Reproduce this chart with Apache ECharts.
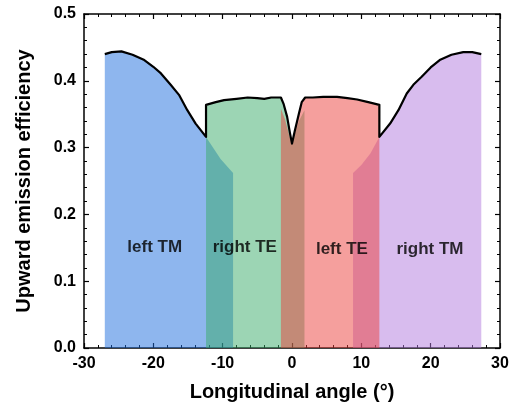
<!DOCTYPE html>
<html>
<head>
<meta charset="utf-8">
<script src="https://cdn.jsdelivr.net/npm/echarts@6/dist/echarts.min.js"></script>
<style>
  html, body { margin: 0; padding: 0; background: #fff; }
  #chart { width: 523px; height: 411px; }
</style>
</head>
<body>
<div id="chart"></div>
<script>
// [angle, efficiency] pairs
var leftTM = [[-27.0, 0], [-27.0, 0.440], [-26.0, 0.443], [-24.6, 0.444], [-23.0, 0.439], [-21.3, 0.431],
    [-20.0, 0.421], [-18.9, 0.411], [-17.5, 0.394], [-16.3, 0.379], [-15.1, 0.356], [-13.9, 0.336],
    [-12.4, 0.316], [-10.3, 0.283], [-8.5, 0.262], [-8.5, 0]];
var rightTE = [[-12.4, 0], [-12.4, 0.364], [-11.0, 0.368], [-9.8, 0.371], [-8.0, 0.373], [-6.4, 0.375],
    [-5.0, 0.374], [-4.0, 0.373], [-3.0, 0.375], [-1.6, 0.375], [-1.2, 0.365], [-0.7, 0.346],
    [-0.3, 0.322], [0.0, 0.306], [0.4, 0.320], [1.0, 0.340], [1.8, 0.356], [1.8, 0]];
var leftTE = [[-1.6, 0], [-1.6, 0.358], [-1.0, 0.342], [-0.4, 0.318], [0.0, 0.306], [0.4, 0.325],
    [1.0, 0.351], [1.4, 0.368], [1.9, 0.375], [3.0, 0.375], [4.5, 0.376], [6.5, 0.376], [8.0, 0.374],
    [9.4, 0.372], [11.0, 0.368], [12.6, 0.364], [12.6, 0]];
var rightTM = [[8.8, 0], [8.8, 0.262], [10.0, 0.274], [11.3, 0.291], [12.6, 0.316], [14.15, 0.336],
    [15.35, 0.356], [16.55, 0.381], [17.5, 0.394], [18.7, 0.406], [20.0, 0.420], [21.3, 0.431],
    [23.0, 0.439], [24.7, 0.443], [26.0, 0.443], [27.3, 0.440], [27.3, 0]];
// black outline on top
var envelope = [[-27.0, 0.440], [-26.0, 0.443], [-24.6, 0.444], [-23.0, 0.439], [-21.3, 0.431],
    [-20.0, 0.421], [-18.9, 0.411], [-17.5, 0.394], [-16.3, 0.379], [-15.1, 0.356], [-13.9, 0.336],
    [-12.4, 0.316], [-12.4, 0.364], [-11.0, 0.368], [-9.8, 0.371], [-8.0, 0.373], [-6.4, 0.375],
    [-5.0, 0.374], [-4.0, 0.373], [-3.0, 0.375], [-1.6, 0.375], [-1.2, 0.365], [-0.7, 0.346],
    [-0.3, 0.322], [0.0, 0.306], [0.4, 0.325], [1.0, 0.351], [1.4, 0.368], [1.9, 0.375], [3.0, 0.375],
    [4.5, 0.376], [6.5, 0.376], [8.0, 0.374], [9.4, 0.372], [11.0, 0.368], [12.6, 0.364],
    [12.6, 0.316], [14.15, 0.336], [15.35, 0.356], [16.55, 0.381], [17.5, 0.394], [18.7, 0.406],
    [20.0, 0.420], [21.3, 0.431], [23.0, 0.439], [24.7, 0.443], [26.0, 0.443], [27.3, 0.440]];
// region labels: [angle, efficiency, text]
var regionLabels = [[-19.8, 0.150, 'left TM'], [-6.8, 0.150, 'right TE'], [7.2, 0.147, 'left TE'], [19.9, 0.147, 'right TM']];

var FONT = 'Liberation Sans, Arial, sans-serif';

function fill(name, data, color) {
    return {
        name: name,
        type: 'line',
        data: data,
        symbol: 'none',
        silent: true,
        lineStyle: {width: 0},
        areaStyle: {color: color, opacity: 1, origin: 'start'},
        z: 2
    };
}

var axisCommon = {
    axisLine: {show: true, onZero: false, lineStyle: {color: '#000', width: 1.5}},
    axisTick: {show: true, inside: true, length: 5, lineStyle: {color: '#000', width: 1.2}},
    minorTick: {show: true, splitNumber: 5, length: 3, lineStyle: {color: '#000', width: 1}},
    splitLine: {show: false}
};

var option = {
    animation: false,
    grid: {left: 84, right: 23, top: 14, bottom: 63},
    xAxis: [
        Object.assign({
            type: 'value', min: -30, max: 30, interval: 10, position: 'bottom',
            name: 'Longitudinal angle (°)', nameLocation: 'middle', nameGap: 34,
            nameTextStyle: {fontFamily: FONT, fontWeight: 'bold', fontSize: 20, color: '#000'},
            axisLabel: {fontFamily: FONT, fontWeight: 'bold', fontSize: 16, color: '#000', margin: 8}
        }, axisCommon),
        Object.assign({
            type: 'value', min: -30, max: 30, interval: 10, position: 'top',
            axisLabel: {show: false}
        }, axisCommon)
    ],
    yAxis: [
        Object.assign({
            type: 'value', min: 0, max: 0.5, interval: 0.1, position: 'left',
            name: 'Upward emission efficiency', nameLocation: 'middle', nameGap: 50,
            nameTextStyle: {fontFamily: FONT, fontWeight: 'bold', fontSize: 20, color: '#000'},
            axisLabel: {fontFamily: FONT, fontWeight: 'bold', fontSize: 16, color: '#000', margin: 8,
                formatter: function (v) { return v.toFixed(1); }}
        }, axisCommon),
        Object.assign({
            type: 'value', min: 0, max: 0.5, interval: 0.1, position: 'right',
            axisLabel: {show: false}
        }, axisCommon)
    ],
    series: [
        fill('left TM', leftTM, 'rgba(30,110,222,0.5)'),
        fill('right TE', rightTE, 'rgba(57,171,105,0.5)'),
        fill('right TM', rightTM, 'rgba(177,121,221,0.5)'),
        fill('left TE', leftTE, 'rgba(235,63,59,0.5)'),
        {
            name: 'total',
            type: 'line',
            data: envelope,
            symbol: 'none',
            silent: true,
            lineStyle: {color: '#000', width: 2.2, join: 'round'},
            z: 5
        },
        {
            name: 'labels',
            type: 'scatter',
            data: regionLabels,
            symbolSize: 0,
            silent: true,
            label: {
                show: true,
                position: 'inside',
                formatter: function (p) { return p.data[2]; },
                fontFamily: FONT, fontWeight: 'bold', fontSize: 17, color: '#000'
            },
            z: 6
        }
    ]
};

var myChart = echarts.init(document.getElementById('chart'));
myChart.setOption(option);
</script>
</body>
</html>
